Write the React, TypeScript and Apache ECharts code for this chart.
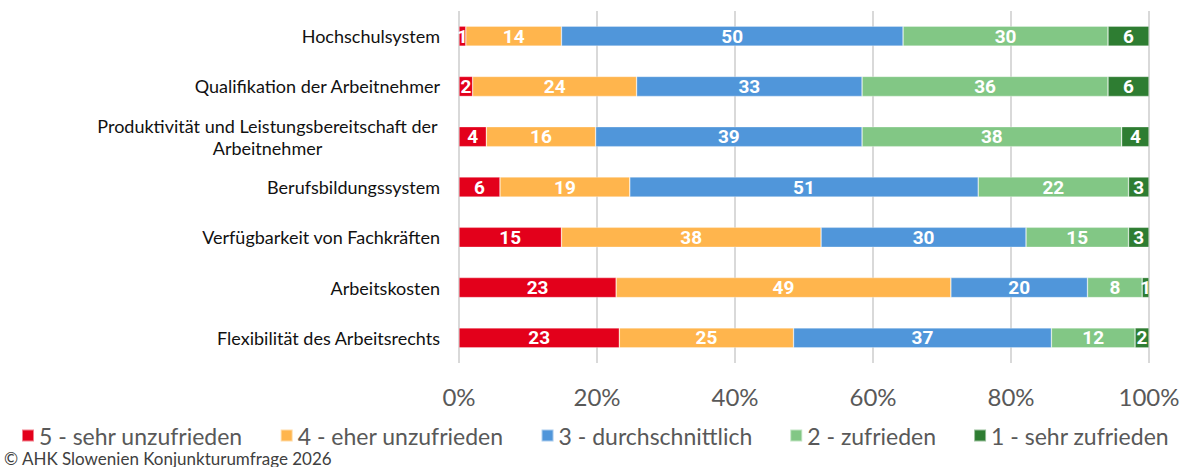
import React, { useEffect, useRef } from "react";
import * as echarts from "echarts";

const categories = [
  "Hochschulsystem",
  "Qualifikation der Arbeitnehmer",
  "Produktivität und Leistungsbereitschaft der Arbeitnehmer",
  "Berufsbildungssystem",
  "Verfügbarkeit von Fachkräften",
  "Arbeitskosten",
  "Flexibilität des Arbeitsrechts",
];

const seriesNames = [
  "5 - sehr unzufrieden",
  "4 - eher unzufrieden",
  "3 - durchschnittlich",
  "2 - zufrieden",
  "1 - sehr zufrieden",
];

const seriesColors = ["#E3001B", "#FFB54D", "#5096DA", "#82C785", "#2E7D32"];

const v5 = [1, 2, 4, 6, 15, 23, 23];
const v4 = [14, 24, 16, 19, 38, 49, 25];
const v3 = [50, 33, 39, 51, 30, 20, 37];
const v2 = [30, 36, 38, 22, 15, 8, 12];
const v1 = [6, 6, 4, 3, 3, 1, 2];

const xTicks = [0, 20, 40, 60, 80, 100];

const footer = "© AHK Slowenien Konjunkturumfrage 2026";

const FONT = "Lato, 'Noto Sans', sans-serif";
const LABEL_FONT = "'Liberation Sans Narrow', Roboto, sans-serif";

export default function App() {
  const ref = useRef<HTMLDivElement>(null);

  useEffect(() => {
    if (!ref.current) return;
    const chart = echarts.init(ref.current, undefined, { renderer: "svg" });
    const all = [v5, v4, v3, v2, v1];
    const totals = categories.map((_, i) => all.reduce((s, arr) => s + arr[i], 0));

    const series = all.map((arr, si) => ({
      name: seriesNames[si],
      type: "bar",
      stack: "total",
      barWidth: 20,
      itemStyle: { color: seriesColors[si], borderColor: "rgba(255,255,255,0.5)", borderWidth: 0.6 },
      label: {
        show: true,
        position: "inside",
        color: "#ffffff",
        fontFamily: LABEL_FONT,
        fontWeight: "bold",
        fontSize: 19,
        formatter: (p: any) => String(arr[p.dataIndex]),
      },
      data: arr.map((v, i) => (v / totals[i]) * 100),
    }));

    chart.setOption({
      animation: false,
      grid: { left: 459, right: 34, top: 11, bottom: 104 },
      legend: {
        left: 16,
        top: 419,
        itemWidth: 12,
        itemHeight: 12,
        itemGap: 37,
        icon: "rect",
        textStyle: { fontFamily: FONT, fontSize: 23, color: "#595959" },
        data: seriesNames,
      },
      xAxis: {
        type: "value",
        min: 0,
        max: 100,
        interval: 20,
        axisLine: { show: false },
        axisTick: { show: false },
        splitLine: { show: true, lineStyle: { color: "#d9d9d9", width: 2 } },
        axisLabel: {
          margin: 21,
          fontFamily: FONT,
          fontSize: 24,
          color: "#595959",
          formatter: (v: number) => (xTicks.includes(v) ? v + "%" : ""),
        },
      },
      yAxis: {
        type: "category",
        inverse: true,
        data: categories,
        axisLine: { show: false },
        axisTick: { show: false },
        axisLabel: {
          margin: 19,
          fontFamily: FONT,
          fontSize: 18,
          color: "#111111",
          lineHeight: 22,
          formatter: (name: string) => {
            if (name.length <= 40) return name;
            const idx = name.lastIndexOf(" ");
            return "{w|" + name.slice(0, idx) + "}\n{w|" + name.slice(idx + 1) + "}";
          },
          rich: {
            w: {
              width: 345,
              align: "center",
              fontFamily: FONT,
              fontSize: 18,
              color: "#111111",
              lineHeight: 22,
            },
          },
        },
      },
      graphic: [
        {
          type: "text",
          left: 4,
          top: 450,
          style: { text: footer, fontFamily: FONT, fontSize: 17, fill: "#404040" },
        },
      ],
      series,
    });
    return () => chart.dispose();
  }, []);

  return (
    <div
      ref={ref}
      style={{ position: "fixed", left: 0, top: 0, width: 1183, height: 467, background: "#fff" }}
    />
  );
}
